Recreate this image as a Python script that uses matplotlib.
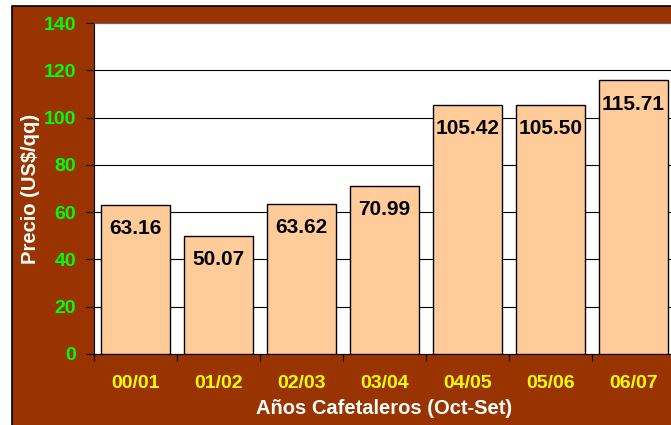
import matplotlib
matplotlib.use("Agg")
import matplotlib.pyplot as plt
from matplotlib.patches import Rectangle
from matplotlib.ticker import FixedLocator

# datos
years = ["00/01", "01/02", "02/03", "03/04", "04/05", "05/06", "06/07"]
prices = [63.16, 50.07, 63.62, 70.99, 105.42, 105.50, 115.71]
yticks = [0, 20, 40, 60, 80, 100, 120, 140]

BROWN = "#993300"
PEACH = "#FFCC99"

plt.rcParams["font.family"] = ["Liberation Sans", "DejaVu Sans"]
plt.rcParams["font.weight"] = "bold"

W, H = 671, 425
fig = plt.figure(figsize=(W / 100, H / 100), dpi=100)
fig.patch.set_facecolor("white")

# fondo marrón (recortado por la derecha y abajo)
fig.patches.append(Rectangle((12 / W, -0.1), 1.2, 1 - 6 / H + 0.1,
                             transform=fig.transFigure, facecolor=BROWN,
                             edgecolor="black", linewidth=1.2, zorder=-1))

ax = fig.add_axes([94 / W, 1 - 354 / H, (675 - 94) / W, (354 - 23) / H])
ax.set_zorder(1)
ax.set_facecolor("white")

x = list(range(len(years)))
ax.bar(x, prices, width=0.83, color=PEACH, edgecolor="black", linewidth=1.0, zorder=3)

for xi, v in zip(x, prices):
    ax.annotate(f"{v:.2f}", (xi, v), xytext=(0, -17), textcoords="offset points",
                ha="center", va="center", fontsize=15, fontweight="bold",
                color="black", zorder=4)

ax.set_xlim(-0.5, len(years) - 0.5)
ax.set_ylim(0, 140)
ax.set_yticks(yticks)
ax.set_yticklabels([str(t) for t in yticks], color="#00FF00", fontsize=14, fontweight="bold")
ax.yaxis.grid(True, color="black", linewidth=0.8, zorder=0)
ax.set_axisbelow(True)

ax.set_xticks(x)
ax.set_xticklabels(years, color="#FFFF00", fontsize=14, fontweight="bold")
ax.xaxis.set_minor_locator(FixedLocator([i - 0.5 for i in range(len(years) + 1)]))
ax.tick_params(axis="x", which="major", length=0, pad=15)
ax.tick_params(axis="x", which="minor", length=5, width=0.8, direction="out")
ax.tick_params(axis="y", length=6, width=0.8, direction="out", pad=7)

for s in ["top", "right"]:
    ax.spines[s].set_color("#666666")
    ax.spines[s].set_linewidth(0.8)
ax.spines["left"].set_color("black")
ax.spines["bottom"].set_color("black")

ax.set_xlabel("Años Cafetaleros (Oct-Set)", color="white", fontsize=14.5, fontweight="bold", labelpad=5)
ax.set_ylabel("Precio (US$/qq)", color="white", fontsize=14.5, fontweight="bold")
ax.yaxis.set_label_coords(-0.093, 0.5)

fig.savefig("out.png", dpi=100)
